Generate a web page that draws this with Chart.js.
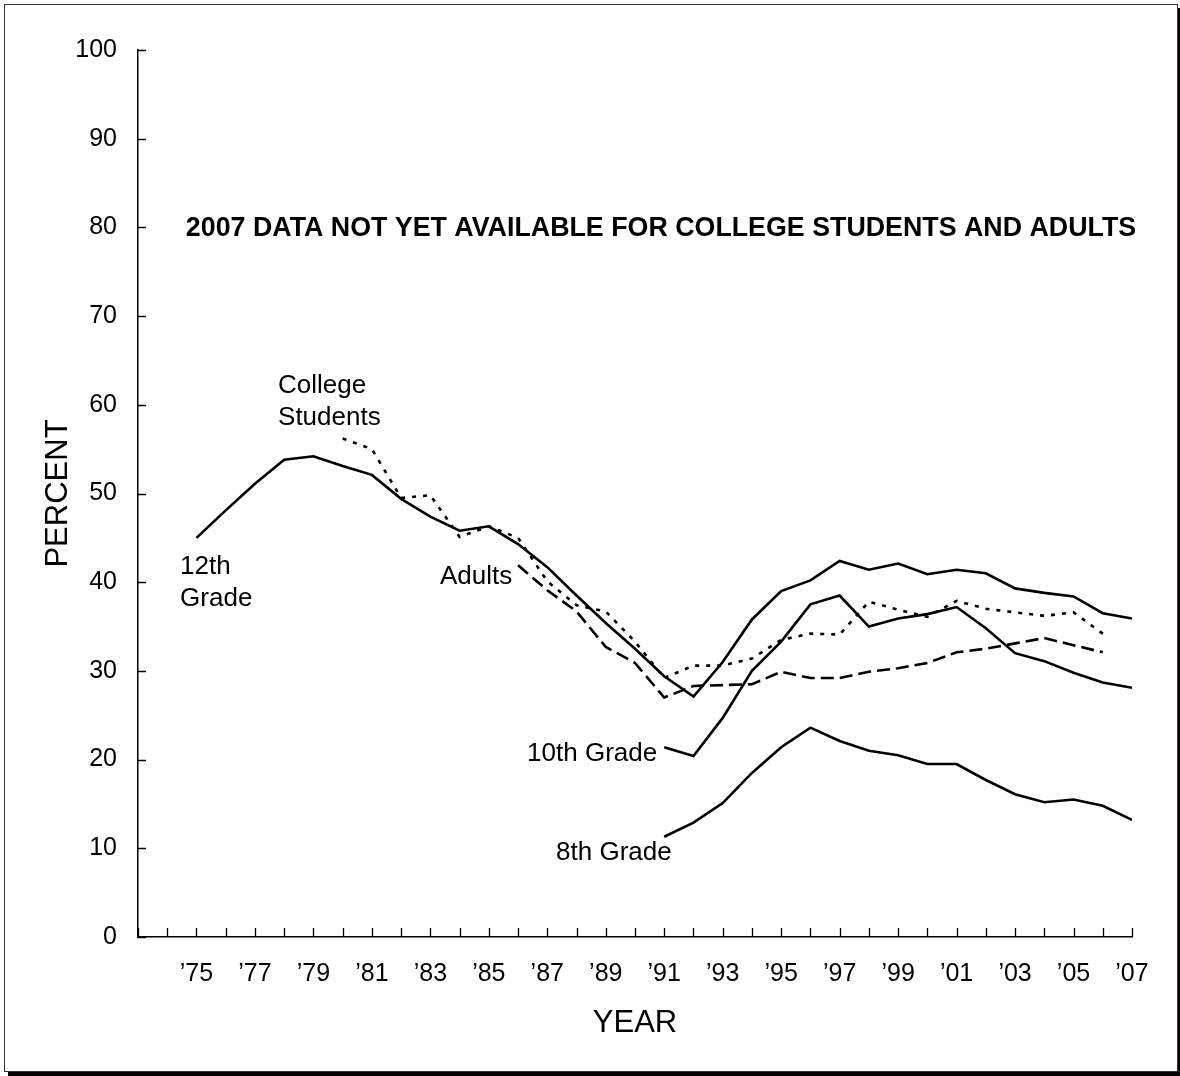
<!DOCTYPE html>
<html><head><meta charset="utf-8">
<script src="https://cdn.jsdelivr.net/npm/chart.js@4"></script>
<style>
html,body{margin:0;padding:0;background:#fff;}
#wrap{position:relative;width:1180px;height:1076px;overflow:hidden;background:#fff;}
#frame{position:absolute;left:4px;top:4px;width:1172px;height:1066px;border:1px solid #333;box-shadow:4px 4px 0 #000;pointer-events:none;}
canvas{position:absolute;left:0;top:0;}
</style></head>
<body><div id="wrap"><canvas id="c" width="1180" height="1076"></canvas><div id="frame"></div></div>
<script>
// ---- data (percent) ----
const years = [1973,1974,1975,1976,1977,1978,1979,1980,1981,1982,1983,1984,1985,1986,1987,1988,1989,1990,
  1991,1992,1993,1994,1995,1996,1997,1998,1999,2000,2001,2002,2003,2004,2005,2006,2007];
const grade12 = [null,null,45.0,48.1,51.1,53.8,54.2,53.1,52.1,49.4,47.4,45.8,46.3,44.3,41.7,38.5,35.4,32.5,
  29.4,27.1,31.0,35.8,39.0,40.2,42.4,41.4,42.1,40.9,41.4,41.0,39.3,38.8,38.4,36.5,35.9];
const grade10 = [null,null,null,null,null,null,null,null,null,null,null,null,null,null,null,null,null,null,
  21.4,20.4,24.7,30.0,33.3,37.5,38.5,35.0,35.9,36.4,37.2,34.8,32.0,31.1,29.8,28.7,28.1];
const grade8 = [null,null,null,null,null,null,null,null,null,null,null,null,null,null,null,null,null,null,
  11.3,12.9,15.1,18.5,21.4,23.6,22.1,21.0,20.5,19.5,19.5,17.7,16.1,15.2,15.5,14.8,13.2];
const college = [null,null,null,null,null,null,null,56.2,55.0,49.5,49.8,45.1,46.3,45.0,40.1,37.4,36.7,33.3,
  29.2,30.6,30.6,31.4,33.5,34.2,34.1,37.8,36.9,36.1,37.9,37.0,36.6,36.2,36.6,34.2,null];
const adults = [null,null,null,null,null,null,null,null,null,null,null,null,null,41.9,39.1,36.7,32.7,30.9,
  27.0,28.3,28.4,28.5,29.9,29.2,29.2,29.9,30.3,30.9,32.1,32.5,33.1,33.7,32.9,32.1,null];

const labeledYears = [1975,1977,1979,1981,1983,1985,1987,1989,1991,1993,1995,1997,1999,2001,2003,2005,2007];
const xTickLabels = ["\u201975","\u201977","\u201979","\u201981","\u201983","\u201985","\u201987","\u201989",
  "\u201991","\u201993","\u201995","\u201997","\u201999","\u201901","\u201903","\u201905","\u201907"];

const seriesNotes = [
  {lines:["College","Students"], year:1977.79, value:62.1},
  {lines:["12th","Grade"], year:1974.44, value:41.7},
  {lines:["Adults"], year:1983.33, value:40.6},
  {lines:["10th Grade"], year:1986.31, value:20.7},
  {lines:["8th Grade"], year:1987.30, value:9.5}
];
const noteText = "2007 DATA NOT YET AVAILABLE FOR COLLEGE STUDENTS AND ADULTS";
const notePos = {year:1990.89, value:79.9};

const FONT = "'Liberation Sans', Arial, Helvetica, sans-serif";
Chart.defaults.font.family = FONT;
Chart.defaults.color = '#000';

const inwardTicks = {
  id:'inwardTicks',
  afterDraw(chart){
    const {ctx, scales:{x,y}, chartArea:a} = chart;
    ctx.save();
    ctx.strokeStyle = '#000';
    ctx.lineWidth = 1.3;
    ctx.beginPath();
    y.ticks.forEach(t => {
      const py = Math.round(y.getPixelForValue(t.value)) + 0.5;
      ctx.moveTo(a.left, py); ctx.lineTo(a.left + 8, py);
    });
    x.ticks.forEach(t => {
      const px = Math.round(x.getPixelForValue(t.value)) + 0.5;
      ctx.moveTo(px, a.bottom); ctx.lineTo(px, a.bottom - 9);
    });
    ctx.stroke();
    ctx.restore();
  }
};

const notes = {
  id:'notes',
  afterDatasetsDraw(chart){
    const {ctx, scales:{x,y}} = chart;
    ctx.save();
    ctx.fillStyle = '#000';
    ctx.textBaseline = 'middle';
    ctx.textAlign = 'left';
    ctx.font = "26px " + FONT;
    seriesNotes.forEach(n => {
      const px = x.getPixelForValue(n.year);
      const py = y.getPixelForValue(n.value);
      n.lines.forEach((ln, i) => ctx.fillText(ln, px, py + i * 31.5));
    });
    ctx.font = "bold 26.8px " + FONT;
    ctx.textAlign = 'center';
    ctx.fillText(noteText, x.getPixelForValue(notePos.year), y.getPixelForValue(notePos.value));
    ctx.restore();
  }
};

const lineStyle = (label, data, dash) => ({
  label, data,
  borderColor:'#000', borderWidth:2.6, borderDash:dash,
  pointRadius:0, fill:false, tension:0, spanGaps:false, borderCapStyle:'butt'
});

new Chart(document.getElementById('c'), {
  type:'line',
  data:{
    labels: years,
    datasets:[
      lineStyle('12th Grade', grade12, []),
      lineStyle('10th Grade', grade10, []),
      lineStyle('8th Grade', grade8, []),
      lineStyle('College Students', college, [4,7]),
      lineStyle('Adults', adults, [13,6])
    ]
  },
  options:{
    responsive:false,
    animation:false,
    layout:{padding:{top:50, right:48, bottom:0, left:0}},
    plugins:{legend:{display:false}, tooltip:{enabled:false}},
    scales:{
      x:{
        type:'linear', min:1973, max:2007,
        grid:{display:false, drawTicks:false},
        border:{display:true, color:'#000', width:1.5},
        ticks:{
          stepSize:1, autoSkip:false, maxRotation:0, minRotation:0, padding:22,
          font:{size:25}, color:'#000',
          callback:(v) => { const i = labeledYears.indexOf(v); return i >= 0 ? xTickLabels[i] : ''; }
        },
        title:{display:true, text:'YEAR', font:{size:31}, color:'#000', padding:{top:0, bottom:34}},
        afterFit:(s) => { s.height = 139; }
      },
      y:{
        min:0, max:100,
        grid:{display:false, drawTicks:false},
        border:{display:true, color:'#000', width:1.5},
        ticks:{stepSize:10, padding:21, font:{size:25}, color:'#000'},
        title:{display:true, text:'PERCENT', font:{size:31}, color:'#000', padding:{top:40, bottom:0}},
        afterFit:(s) => { s.width = 138; }
      }
    }
  },
  plugins:[inwardTicks, notes]
});
</script>
</body></html>
